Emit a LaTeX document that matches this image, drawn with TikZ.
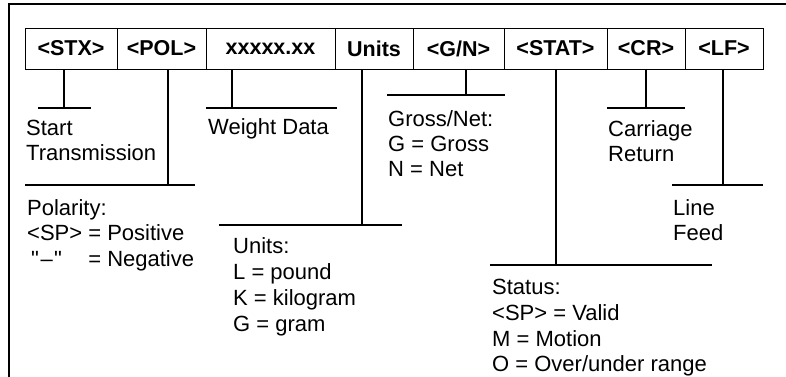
\documentclass[tikz,border=0pt]{standalone}
\usepackage{fontspec}
\setmainfont{Liberation Sans}[Ligatures=TeXOff]
\begin{document}
\begin{tikzpicture}[x=1pt,y=-1pt,
  cell/.style={draw,line width=1pt,minimum height=41pt,inner sep=0pt,
    font=\fontsize{21.5}{25}\selectfont\bfseries},
  conn/.style={line width=1.4pt},
  frame/.style={line width=2pt},
  lbl/.style={anchor=north west,inner sep=0pt,align=left,
    font=\fontsize{22}{25.5}\selectfont}]
\useasboundingbox (0,0) rectangle (786,376);
\fill[white] (0,0) rectangle (786,376);
% outer frame (open at right and bottom)
\coordinate (fBL) at (9,377);
\coordinate (fTL) at (9,4.3);
\coordinate (fTR) at (787,4.3);
\draw[frame] (fBL) -- (fTL) -- (fTR);
% field cells
\node[cell,minimum width=92pt] (stx) at (71,48.5) {<STX>};
\node[cell,minimum width=89pt] (pol) at (161.5,48.5) {<POL>};
\node[cell,minimum width=129pt] (wd) at (270.5,48.5) {xxxxx.xx};
\node[cell,minimum width=78pt] (un) at (374,48.5) {Units};
\node[cell,minimum width=91pt] (gn) at (458.5,48.5) {<G/N>};
\node[cell,minimum width=103pt] (st) at (555.5,48.5) {<STAT>};
\node[cell,minimum width=78pt] (cr) at (646,48.5) {<CR>};
\node[cell,minimum width=78pt] (lf) at (724,48.5) {<LF>};
% connector end points and bars
\coordinate (stxT) at (64,108);  \coordinate (stxL) at (38,108);  \coordinate (stxR) at (91,108);
\coordinate (polT) at (168,185); \coordinate (polL) at (25,185);  \coordinate (polR) at (195,185);
\coordinate (wdT) at (232,108);  \coordinate (wdL) at (206,108);  \coordinate (wdR) at (337,108);
\coordinate (unT) at (362,225);  \coordinate (unL) at (219,225);  \coordinate (unR) at (402,225);
\coordinate (gnT) at (466,95);   \coordinate (gnL) at (387,95);   \coordinate (gnR) at (505,95);
\coordinate (stT) at (556,265);  \coordinate (stL) at (490,265);  \coordinate (stR) at (712,265);
\coordinate (crT) at (646,108);  \coordinate (crL) at (607,108);  \coordinate (crR) at (685,108);
\coordinate (lfT) at (723,185);  \coordinate (lfL) at (672,185);  \coordinate (lfR) at (763,185);
\foreach \n/\m in {stx/stx,pol/pol,wd/wd,un/un,gn/gn,st/st,cr/cr,lf/lf}{
  \draw[conn] (\n.south -| \m T) -- (\m T);
  \draw[conn] (\m L) -- (\m R);
}
% labels
\node[lbl,font=\fontsize{22}{25}\selectfont] (tStart) at (26,120.2) {Start\\Transmission};
\node[lbl] (tWeight) at (208,118.5) {Weight Data};
\node[lbl,font=\fontsize{22}{25}\selectfont] (tGross) at (388,110.2) {Gross/Net:\\G = Gross\\N = Net};
\node[lbl,font=\fontsize{22}{25}\selectfont] (tCarr) at (608,120.2) {Carriage\\Return};
\node[lbl] (tPol) at (27,199.2) {Polarity:\\<SP> = Positive\\\rlap{\hspace{4pt}"\kern1.5pt–\kern1.5pt"}\phantom{<SP>} = Negative};
\node[lbl,font=\fontsize{22}{26}\selectfont] (tUnits) at (233,237.2) {Units:\\L = pound\\K = kilogram\\G = gram};
\node[lbl,font=\fontsize{22}{25}\selectfont] (tLine) at (673,199.2) {Line\\Feed};
\node[lbl,font=\fontsize{22}{25.7}\selectfont] (tStat) at (492,279.2) {Status:\\<SP> = Valid\\M = Motion\\O = Over/under range};
\end{tikzpicture}
\end{document}
